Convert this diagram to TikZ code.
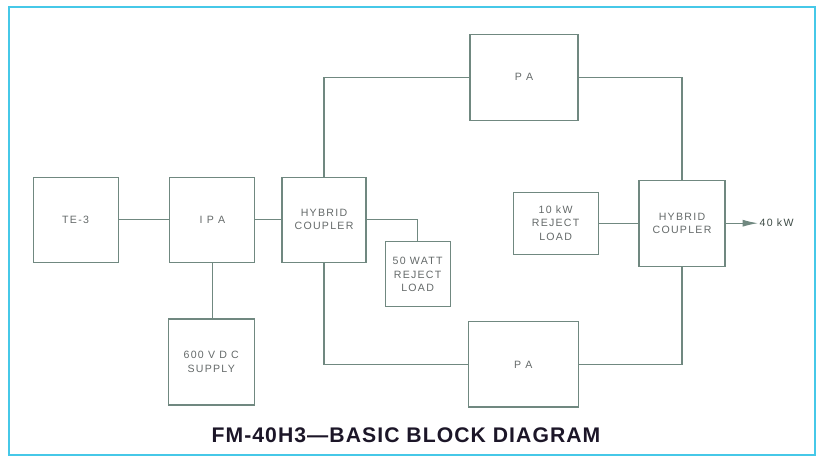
\documentclass[tikz,border=0pt]{standalone}
\usepackage{fontspec}
\setmainfont{Liberation Sans}
\newfontfamily\boxfont[LetterSpace=12]{Liberation Sans}
\newfontfamily\titlefont[LetterSpace=5]{Liberation Sans}
\usetikzlibrary{arrows.meta}
\definecolor{boxline}{RGB}{112,136,128}
\definecolor{boxtext}{RGB}{100,105,105}
\definecolor{frameblue}{RGB}{70,200,232}
\definecolor{titleink}{RGB}{28,22,40}
\begin{document}
\begin{tikzpicture}[blk/.style={draw=boxline,line width=0.75pt,align=center,inner sep=0pt,text=boxtext,font=\boxfont\fontsize{7.5bp}{9.5bp}\selectfont},wire/.style={draw=boxline,line width=0.75pt}]
\useasboundingbox (0,0) rectangle (20.475,-11.45);
\draw[frameblue,line width=1.5pt] (0.225,-0.175) rectangle (20.375,-11.375);
\node[blk,minimum width=2.125cm,minimum height=2.125cm] (te) at (1.89,-5.49) {TE-3};
\node[blk,minimum width=2.125cm,minimum height=2.125cm] (ipa) at (5.31,-5.49) {I P A};
\node[blk,minimum width=2.1cm,minimum height=2.125cm] (hc1) at (8.10,-5.49) {HYBRID\\COUPLER};
\node[blk,minimum width=1.625cm,minimum height=1.625cm] (rl50) at (10.44,-6.86) {50 WATT\\REJECT\\LOAD};
\node[blk,minimum width=2.7cm,minimum height=2.15cm] (pa1) at (13.10,-1.93) {P A};
\node[blk,minimum width=2.75cm,minimum height=2.13cm] (pa2) at (13.08,-9.11) {P A};
\node[blk,minimum width=2.15cm,minimum height=2.15cm] (dc) at (5.28,-9.05) {600 V D C\\SUPPLY};
\node[blk,minimum width=2.125cm,minimum height=1.55cm] (rl10) at (13.89,-5.58) {10 kW\\REJECT\\LOAD};
\node[blk,minimum width=2.15cm,minimum height=2.15cm] (hc2) at (17.05,-5.58) {HYBRID\\COUPLER};
\coordinate (out) at (18.95,-5.58);
\node[anchor=west,inner sep=1pt,text=boxline!55!black,font=\boxfont\fontsize{7.5bp}{9bp}\selectfont] (lbl) at (out) {40 kW};
\node[text=titleink,font=\titlefont\bfseries\fontsize{15bp}{18bp}\selectfont] (ttl) at (10.15,-10.88) {FM-40H3—BASIC BLOCK DIAGRAM};
\draw[wire] (te.east)--(ipa.west);\draw[wire] (ipa.east)--(hc1.west);\draw[wire] (ipa.south)--(ipa.south|-dc.north);
\draw[wire] (hc1.east)-|(rl50.north);\draw[wire] (hc1.north)|-(pa1.west);\draw[wire] (hc1.south)|-(pa2.west);
\draw[wire] (pa1.east)-|(hc2.north);\draw[wire] (pa2.east)-|(hc2.south);\draw[wire] (rl10.east)--(hc2.west);
\draw[wire,-{Latex[length=11pt,width=5pt]}] (hc2.east)--(out);
\end{tikzpicture}
\end{document}
